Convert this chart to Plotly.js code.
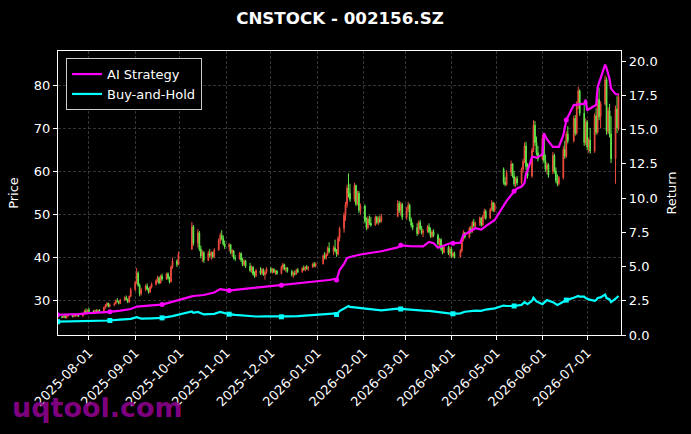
<!DOCTYPE html>
<html>
<head>
<meta charset="utf-8">
<script src="https://cdn.plot.ly/plotly-3.0.1.min.js"></script>
<style>
html,body{margin:0;padding:0;background:#000;}
#chart{width:691px;height:434px;}
</style>
</head>
<body>
<div id="chart"></div>
<script>
// ---------- candle data (daily, trading days) ----------
const dates = [
"2025-07-11","2025-07-14","2025-07-15","2025-07-16","2025-07-17","2025-07-18","2025-07-21","2025-07-22","2025-07-23","2025-07-24","2025-07-25","2025-07-28","2025-07-29","2025-07-30","2025-07-31",
"2025-08-01","2025-08-04","2025-08-05","2025-08-06","2025-08-07","2025-08-08","2025-08-11","2025-08-12","2025-08-13","2025-08-14","2025-08-15","2025-08-18","2025-08-19","2025-08-20","2025-08-21","2025-08-22","2025-08-25","2025-08-26","2025-08-27","2025-08-28","2025-08-29",
"2025-09-01","2025-09-02","2025-09-03","2025-09-04","2025-09-05","2025-09-08","2025-09-09","2025-09-10","2025-09-11","2025-09-12","2025-09-15","2025-09-16","2025-09-17","2025-09-18","2025-09-19","2025-09-22","2025-09-23","2025-09-24","2025-09-25","2025-09-26","2025-09-29","2025-09-30",
"2025-10-09","2025-10-10","2025-10-13","2025-10-14","2025-10-15","2025-10-16","2025-10-17","2025-10-20","2025-10-21","2025-10-22","2025-10-23","2025-10-24","2025-10-27","2025-10-28","2025-10-29","2025-10-30","2025-10-31",
"2025-11-03","2025-11-04","2025-11-05","2025-11-06","2025-11-07","2025-11-10","2025-11-11","2025-11-12","2025-11-13","2025-11-14","2025-11-17","2025-11-18","2025-11-19","2025-11-20","2025-11-21","2025-11-24","2025-11-25","2025-11-26","2025-11-27","2025-11-28",
"2025-12-01","2025-12-02","2025-12-03","2025-12-04","2025-12-05","2025-12-08","2025-12-09","2025-12-10","2025-12-11","2025-12-12","2025-12-15","2025-12-16","2025-12-17","2025-12-18","2025-12-19","2025-12-22","2025-12-23","2025-12-24","2025-12-25","2025-12-26","2025-12-29","2025-12-30","2025-12-31",
"2026-01-05","2026-01-06","2026-01-07","2026-01-08","2026-01-09","2026-01-12","2026-01-13","2026-01-14","2026-01-15","2026-01-16","2026-01-19","2026-01-20","2026-01-21","2026-01-22","2026-01-23","2026-01-26","2026-01-27","2026-01-28","2026-01-29","2026-01-30",
"2026-02-02","2026-02-03","2026-02-04","2026-02-05","2026-02-06","2026-02-09","2026-02-10","2026-02-11","2026-02-12","2026-02-13","2026-02-24","2026-02-25","2026-02-26","2026-02-27",
"2026-03-02","2026-03-03","2026-03-04","2026-03-05","2026-03-06","2026-03-09","2026-03-10","2026-03-11","2026-03-12","2026-03-13","2026-03-16","2026-03-17","2026-03-18","2026-03-19","2026-03-20","2026-03-23","2026-03-24","2026-03-25","2026-03-26","2026-03-27","2026-03-30","2026-03-31",
"2026-04-01","2026-04-02","2026-04-03","2026-04-07","2026-04-08","2026-04-09","2026-04-10","2026-04-13","2026-04-14","2026-04-15","2026-04-16","2026-04-17","2026-04-20","2026-04-21","2026-04-22","2026-04-23","2026-04-24","2026-04-27","2026-04-28","2026-04-29","2026-04-30",
"2026-05-06","2026-05-07","2026-05-08","2026-05-11","2026-05-12","2026-05-13","2026-05-14","2026-05-15","2026-05-18","2026-05-19","2026-05-20","2026-05-21","2026-05-22","2026-05-25","2026-05-26","2026-05-27","2026-05-28","2026-05-29",
"2026-06-01","2026-06-02","2026-06-03","2026-06-04","2026-06-05","2026-06-08","2026-06-09","2026-06-10","2026-06-11","2026-06-12","2026-06-15","2026-06-16","2026-06-17","2026-06-18","2026-06-22","2026-06-23","2026-06-24","2026-06-25","2026-06-26","2026-06-29","2026-06-30",
"2026-07-01","2026-07-02","2026-07-03","2026-07-06","2026-07-07","2026-07-08","2026-07-09","2026-07-10","2026-07-13","2026-07-14","2026-07-15","2026-07-16","2026-07-17","2026-07-20","2026-07-21","2026-07-22"
];
const open = [
26.0,26.3,26.1,26.5,26.0,26.4,26.7,26.3,26.6,26.5,26.7,26.4,27.0,27.6,27.3,
27.8,27.5,27.3,27.7,27.4,27.8,27.5,28.4,28.9,29.4,28.7,29.0,29.3,30.0,29.8,29.4,30.2,30.7,30.3,29.7,31.0,
32.6,34.2,36.4,33.6,31.6,32.6,33.4,32.7,32.0,33.2,33.8,34.7,35.3,34.1,35.7,35.0,36.2,35.2,34.4,37.8,39.2,38.4,
42.0,47.2,43.4,45.8,42.0,40.4,41.2,39.4,41.0,40.5,41.2,40.2,41.8,44.0,45.2,44.6,43.2,
42.5,43.0,41.2,41.6,40.0,39.8,41.0,39.4,38.4,39.2,38.0,37.0,37.8,36.2,35.8,37.0,36.4,37.2,36.0,36.6,
37.4,36.8,37.3,36.6,36.9,36.3,37.8,38.4,37.3,37.6,36.8,36.0,36.4,36.2,37.1,36.7,37.5,37.2,37.8,37.5,37.8,38.5,38.1,
38.6,40.4,40.0,40.8,42.2,41.4,42.3,41.6,40.8,44.5,46.8,49.8,52.4,56.2,55.0,53.6,56.8,52.5,55.0,51.0,
52.0,48.6,47.0,49.0,48.0,47.6,49.4,48.2,49.0,48.4,49.6,52.6,51.0,52.4,
49.4,51.4,52.2,48.8,47.6,47.0,45.6,48.2,46.8,45.8,46.2,47.2,46.0,45.0,46.0,45.2,43.2,44.2,42.0,41.2,42.4,41.0,
42.0,40.4,41.0,40.2,41.6,44.2,45.8,44.8,46.8,46.0,48.2,47.4,48.0,49.2,47.6,49.6,50.8,49.2,51.2,52.8,51.0,
60.6,57.6,57.0,59.8,61.8,59.0,57.2,58.4,57.4,60.6,62.4,66.0,61.2,59.0,65.0,70.8,66.8,64.4,
63.0,67.8,62.6,60.6,61.6,60.0,63.8,60.2,58.0,57.2,58.6,65.2,63.6,68.8,67.2,72.4,69.0,75.6,78.8,73.6,66.8,
71.6,65.8,67.4,64.8,73.0,69.2,76.8,72.8,75.8,81.4,69.4,74.2,68.8,63.0,74.6,70.2
];
const high = [
26.6,26.5,26.7,26.6,26.5,26.9,26.8,26.8,27.0,26.9,26.9,27.2,27.9,28.2,28.0,
28.3,27.8,27.9,28.0,27.9,28.0,28.6,29.2,29.6,29.5,29.3,29.6,30.3,30.6,30.0,30.4,31.0,31.2,30.5,31.2,33.0,
34.6,37.6,36.8,34.0,33.0,33.8,34.0,33.0,33.4,34.2,35.0,35.8,35.6,36.0,36.3,36.5,36.6,35.6,38.2,40.0,39.6,41.4,
48.3,47.6,46.6,46.2,42.8,41.8,41.5,41.6,42.0,41.5,41.4,42.2,44.5,45.8,46.4,45.2,44.0,
43.4,43.2,42.0,41.8,40.6,41.3,41.2,40.0,39.6,39.5,38.8,38.2,38.0,36.8,37.4,37.8,37.6,37.5,37.0,37.8,
37.8,37.6,37.5,37.2,37.1,38.2,38.8,38.6,37.8,37.8,37.2,36.8,37.0,37.4,37.6,37.8,38.2,38.0,38.3,38.0,38.8,39.0,38.9,
40.8,41.3,41.0,42.6,43.6,42.8,44.2,42.0,45.0,47.2,50.5,53.0,57.0,59.6,57.2,57.4,57.0,55.6,55.5,52.6,
52.4,49.4,49.6,49.8,49.5,49.8,49.7,49.6,49.8,50.2,53.4,53.2,53.0,52.8,
51.8,53.0,52.6,49.4,48.2,48.0,48.6,48.8,47.4,46.6,47.6,48.0,47.0,46.4,46.6,45.6,44.6,44.5,43.0,42.8,42.8,42.6,
42.4,41.4,41.4,42.0,44.6,46.4,46.0,47.2,47.4,48.6,49.0,48.4,49.6,49.4,50.0,51.4,51.2,51.6,53.4,53.0,52.8,
61.0,58.8,60.4,62.6,62.0,60.2,58.8,59.0,61.0,63.0,66.8,67.0,62.0,65.6,72.0,71.8,68.2,66.0,
68.6,68.0,64.0,62.2,62.0,64.6,64.2,61.0,59.4,59.0,66.0,67.2,69.4,70.6,73.0,73.2,76.4,79.8,79.2,75.6,72.4,
72.0,68.0,70.2,73.6,74.8,77.4,79.6,76.4,82.4,82.0,75.0,75.8,73.0,75.4,77.6,78.2
];
const low = [
25.8,25.9,26.0,25.9,25.8,26.2,26.1,26.1,26.3,26.2,26.2,26.3,26.8,27.1,27.0,
27.2,27.0,27.1,27.2,27.2,27.3,27.4,28.1,28.5,28.4,28.4,28.7,29.1,29.6,29.1,29.2,30.0,30.0,29.4,29.5,30.8,
32.2,33.8,33.2,31.0,31.2,32.2,32.4,31.6,31.8,32.8,33.5,34.2,33.8,34.0,34.6,34.8,34.9,34.0,34.2,37.4,37.8,38.2,
41.8,42.8,42.4,41.5,39.8,39.0,38.8,39.2,40.0,39.5,39.8,40.0,41.6,43.2,44.0,42.8,42.0,
41.5,40.8,40.2,39.6,39.2,39.5,39.0,38.0,38.0,37.6,36.6,36.5,35.8,35.3,35.5,36.0,36.0,35.8,34.9,36.2,
36.4,36.3,36.4,36.0,36.0,36.1,37.2,37.0,36.6,36.5,35.6,35.3,35.8,36.0,36.4,36.5,37.0,36.8,37.2,36.9,37.6,37.8,37.7,
38.4,39.6,39.5,40.4,41.0,40.6,41.2,40.2,40.5,43.8,45.8,48.6,51.6,54.0,53.0,53.0,52.0,52.2,50.4,50.0,
48.0,46.4,46.6,47.6,47.2,47.4,47.8,47.6,48.0,48.2,49.4,50.4,49.8,48.8,
48.8,50.6,48.4,47.0,46.4,45.0,45.4,46.4,45.4,44.8,45.8,45.6,44.6,44.6,44.8,42.8,42.6,41.6,40.8,41.0,40.6,40.2,
40.0,40.0,39.8,40.0,41.2,43.8,44.4,44.5,45.6,45.8,47.0,46.8,47.4,47.2,47.4,49.0,48.8,49.0,50.8,50.6,50.6,
57.0,56.6,56.8,59.0,58.6,56.6,56.4,56.8,57.0,59.8,62.0,60.4,58.4,58.6,64.6,66.0,63.8,62.4,
62.6,62.0,60.0,59.4,58.6,59.4,59.6,57.4,56.6,56.8,58.2,63.0,63.2,66.6,66.8,68.4,68.6,74.6,73.0,66.0,66.2,
65.0,64.4,64.2,64.4,68.6,68.8,72.0,70.2,75.4,68.6,68.8,68.0,62.0,57.2,69.0,69.6
];
const close = [
26.3,26.1,26.5,26.0,26.4,26.7,26.3,26.6,26.5,26.7,26.4,27.0,27.6,27.3,27.8,
27.5,27.3,27.7,27.4,27.8,27.5,28.4,28.9,29.4,28.7,29.0,29.3,30.0,29.8,29.4,30.2,30.7,30.3,29.7,31.0,32.6,
34.2,36.4,33.6,31.6,32.6,33.4,32.7,32.0,33.2,33.8,34.7,35.3,34.1,35.7,35.0,36.2,35.2,34.4,37.8,39.2,38.4,40.8,
47.2,43.4,45.8,42.0,40.4,41.2,39.4,41.0,40.5,41.2,40.2,41.8,44.0,45.2,44.6,43.2,42.5,
43.0,41.2,41.6,40.0,39.8,41.0,39.4,38.4,39.2,38.0,37.0,37.8,36.2,35.8,37.0,36.4,37.2,36.0,36.6,37.4,
36.8,37.3,36.6,36.9,36.3,37.8,38.4,37.3,37.6,36.8,36.0,36.4,36.2,37.1,36.7,37.5,37.2,37.8,37.5,37.8,38.5,38.1,38.6,
40.4,40.0,40.8,42.2,41.4,42.3,41.6,40.8,44.5,46.8,49.8,52.4,56.2,55.0,53.6,56.8,52.5,55.0,51.0,52.0,
48.6,47.0,49.0,48.0,47.6,49.4,48.2,49.0,48.4,49.6,52.6,51.0,52.4,49.4,
51.4,52.2,48.8,47.6,47.0,45.6,48.2,46.8,45.8,46.2,47.2,46.0,45.0,46.0,45.2,43.2,44.2,42.0,41.2,42.4,41.0,42.0,
40.4,41.0,40.2,41.6,44.2,45.8,44.8,46.8,46.0,48.2,47.4,48.0,49.2,47.6,49.6,50.8,49.2,51.2,52.8,51.0,52.4,
57.6,57.0,59.8,61.8,59.0,57.2,58.4,57.4,60.6,62.4,66.0,61.2,59.0,65.0,70.8,66.8,64.4,63.0,
67.8,62.6,60.6,61.6,59.2,63.8,60.2,58.0,57.2,58.6,65.2,63.6,68.8,67.2,72.4,69.0,75.6,78.8,73.6,66.8,71.6,
65.8,67.4,64.8,73.0,69.2,76.8,72.8,75.8,81.4,69.4,74.2,68.8,63.0,74.6,70.2,77.4
];

// ---------- strategy return lines ----------
const lineDates = [
"2025-07-11","2025-07-18","2025-07-25","2025-08-01","2025-08-08","2025-08-15","2025-08-22","2025-08-29","2025-09-02","2025-09-05","2025-09-12","2025-09-19","2025-09-26","2025-09-30",
"2025-10-09","2025-10-10","2025-10-13","2025-10-17","2025-10-24","2025-10-28","2025-10-31","2025-11-03","2025-11-07","2025-11-14","2025-11-21","2025-11-28",
"2025-12-05","2025-12-08","2025-12-12","2025-12-19","2025-12-26","2025-12-31","2026-01-09","2026-01-13","2026-01-14","2026-01-16","2026-01-19","2026-01-21","2026-01-22","2026-01-23","2026-01-30",
"2026-02-06","2026-02-13","2026-02-24","2026-02-26","2026-03-04","2026-03-09","2026-03-13","2026-03-17","2026-03-20","2026-03-23","2026-03-27","2026-03-31","2026-04-02","2026-04-07","2026-04-09","2026-04-10","2026-04-17","2026-04-21","2026-04-24","2026-04-30",
"2026-05-06","2026-05-08","2026-05-13","2026-05-15","2026-05-18","2026-05-20","2026-05-21","2026-05-22","2026-05-25","2026-05-26","2026-05-28",
"2026-06-01","2026-06-02","2026-06-04","2026-06-08","2026-06-11","2026-06-12","2026-06-15","2026-06-17","2026-06-22","2026-06-25","2026-06-26","2026-06-29","2026-06-30",
"2026-07-01","2026-07-02","2026-07-06","2026-07-07","2026-07-08","2026-07-10","2026-07-13","2026-07-14","2026-07-16","2026-07-17","2026-07-20","2026-07-22"
];
const aiStrategy = [
1.48,1.50,1.53,1.60,1.64,1.69,1.78,1.90,2.08,2.12,2.16,2.22,2.45,2.58,
2.82,2.85,2.88,2.92,3.10,3.35,3.30,3.25,3.30,3.38,3.45,3.50,
3.58,3.64,3.68,3.76,3.85,3.92,4.02,4.10,4.02,4.75,5.20,5.62,5.68,5.70,5.88,
5.98,6.12,6.40,6.55,6.50,6.48,6.48,6.80,6.70,6.38,6.55,6.70,6.70,6.75,7.30,7.35,7.80,7.70,7.95,8.40,
9.45,9.80,10.50,10.70,10.85,11.10,11.80,12.00,13.00,13.02,12.95,
13.20,14.75,14.30,13.75,13.72,13.75,14.60,15.70,16.80,16.82,16.85,16.90,17.20,
16.40,16.50,16.70,16.80,18.10,18.70,19.75,19.50,18.70,18.00,17.60,17.55
];
const buyHold = [
0.97,0.98,0.99,1.02,1.02,1.06,1.12,1.18,1.30,1.20,1.22,1.25,1.38,1.48,
1.72,1.62,1.68,1.50,1.55,1.68,1.60,1.52,1.47,1.42,1.35,1.36,
1.34,1.33,1.36,1.38,1.42,1.46,1.55,1.58,1.50,1.75,1.92,2.08,2.12,2.05,1.95,
1.85,1.80,1.92,1.90,1.86,1.80,1.78,1.76,1.72,1.66,1.62,1.60,1.55,1.58,1.66,1.70,1.78,1.76,1.86,1.95,
2.15,2.12,2.12,2.15,2.20,2.40,2.30,2.25,2.50,2.72,2.45,
2.25,2.35,2.55,2.40,2.20,2.25,2.45,2.55,2.72,2.85,2.80,2.80,2.70,
2.62,2.60,2.50,2.55,2.70,2.75,2.95,2.70,2.60,2.40,2.65,2.85
];
const monthTicks = ["2025-08-01","2025-09-01","2025-10-01","2025-11-01","2025-12-01","2026-01-01","2026-02-01","2026-03-01","2026-04-01","2026-05-01","2026-06-01","2026-07-01"];

// markers on every 25th trading day (style only)
const markSize = (s) => lineDates.map(d => (dates.indexOf(d) % 25 === 0) ? s : 0);

const RED = '#ee4b3d', GREEN = '#62e84a';
const FONT = 'DejaVu Sans, Liberation Sans, sans-serif';

const traces = [
  {
    type: 'candlestick', x: dates, open: open, high: high, low: low, close: close,
    xaxis: 'x', yaxis: 'y', showlegend: false, hoverinfo: 'skip', whiskerwidth: 0,
    increasing: {line: {color: RED, width: 1}, fillcolor: RED},
    decreasing: {line: {color: GREEN, width: 1}, fillcolor: GREEN}
  },
  {
    type: 'scatter', mode: 'lines+markers', name: 'AI Strategy', x: lineDates, y: aiStrategy,
    xaxis: 'x', yaxis: 'y2',
    line: {color: '#ff00ff', width: 2.2},
    marker: {symbol: 'circle', size: markSize(5), color: '#ff00ff', line: {width: 0}, opacity: 1}
  },
  {
    type: 'scatter', mode: 'lines+markers', name: 'Buy-and-Hold', x: lineDates, y: buyHold,
    xaxis: 'x', yaxis: 'y2',
    line: {color: '#00ffff', width: 2.2},
    marker: {symbol: 'square', size: markSize(5), color: '#00ffff', line: {width: 0}, opacity: 1}
  }
];

const axisCommon = {
  showline: true, linecolor: '#ffffff', linewidth: 1.2,
  ticks: 'outside', ticklen: 4, tickcolor: '#ffffff', tickwidth: 1,
  tickfont: {color: '#ffffff', size: 13, family: FONT},
  zeroline: false
};

const layout = {
  width: 691, height: 434,
  paper_bgcolor: '#000000', plot_bgcolor: '#000000',
  margin: {l: 58, r: 70, t: 51, b: 99, pad: 0},
  font: {family: FONT, color: '#ffffff', size: 13},
  hovermode: false,
  title: {
    text: '<b>CNSTOCK - 002156.SZ</b>', font: {size: 16.7, color: '#ffffff', family: FONT},
    x: 0.492, xref: 'container', xanchor: 'center', y: 0.958, yref: 'container', yanchor: 'middle'
  },
  xaxis: Object.assign({}, axisCommon, {
    type: 'date', range: ['2025-07-11 06:00', '2026-07-23 16:00'],
    tickvals: monthTicks, ticktext: monthTicks, tickangle: -45,
    showgrid: true, gridcolor: '#4a4a4a', griddash: '3px,2px', gridwidth: 0.7,
    mirror: true, rangeslider: {visible: false}
  }),
  yaxis: Object.assign({}, axisCommon, {
    range: [22.0, 88.1], dtick: 10, tick0: 0,
    showgrid: true, gridcolor: '#4a4a4a', griddash: '3px,2px', gridwidth: 0.7,
    mirror: true,
    title: {text: 'Price', font: {size: 13, color: '#ffffff', family: FONT}, standoff: 12}
  }),
  yaxis2: Object.assign({}, axisCommon, {
    overlaying: 'y', side: 'right', anchor: 'x',
    range: [0, 20.75], dtick: 2.5, tick0: 0, tickformat: '.1f',
    showgrid: false,
    title: {text: 'Return', font: {size: 13, color: '#ffffff', family: FONT}, standoff: 10}
  }),
  legend: {
    x: 0.0142, y: 0.975, xanchor: 'left', yanchor: 'top',
    bgcolor: '#000000', bordercolor: '#cccccc', borderwidth: 1,
    font: {size: 13, color: '#ffffff', family: FONT},
    tracegroupgap: 2
  },
  annotations: [{
    text: '<b>uqtool.com</b>', xref: 'paper', yref: 'paper',
    x: -0.0853, y: -0.257, xanchor: 'left', yanchor: 'middle', showarrow: false,
    font: {size: 27, color: 'rgba(140,0,140,0.92)', family: FONT}
  }]
};

Plotly.newPlot('chart', traces, layout, {staticPlot: true, displayModeBar: false});
</script>
</body>
</html>
